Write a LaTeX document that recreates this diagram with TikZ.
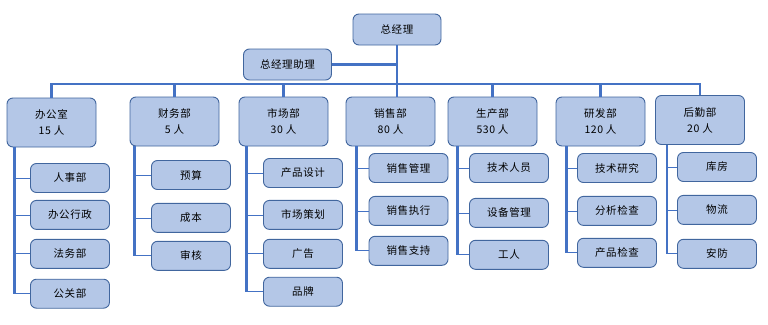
\documentclass[tikz,border=0pt]{standalone}
\usepackage{fontspec}
\newfontfamily\cjk[LetterSpace=5]{Noto Sans CJK SC}
\usetikzlibrary{positioning}
\definecolor{boxfill}{HTML}{B4C7E7}
\definecolor{boxline}{HTML}{41669E}
\definecolor{linkblue}{HTML}{4472C4}

\begin{document}
\begin{tikzpicture}[
    x=1pt, y=-1pt,
    every node/.style={font=\cjk\fontsize{10.5}{16}\selectfont},
    orgbox/.style={rectangle, draw=boxline, fill=boxfill, line width=0.9pt, rounded corners=6pt, align=center, inner sep=0pt},
    head/.style={orgbox, minimum width=88pt, minimum height=31pt},
    dept/.style={orgbox, minimum width=89pt, minimum height=49pt},
    unit/.style={orgbox, minimum width=79pt, minimum height=29pt},
    trunk/.style={linkblue, line width=2.6pt},
    stub/.style={linkblue, line width=0.8pt}
]

\useasboundingbox (0,0) rectangle (768,324);

% Top management
\node[head] (gm) at (397, 29.5) {总经理};
\node[head] (asst) at (287.5, 64.5) {总经理助理};

% ============ Departments ============
\node[dept] (d1) at (51.5, 122.5) {办公室\\15 人};
\node[dept] (d2) at (174.5, 121.5) {财务部\\5 人};
\node[dept] (d3) at (283.5, 121.5) {市场部\\30 人};
\node[dept] (d4) at (390.5, 121.5) {销售部\\80 人};
\node[dept] (d5) at (492.5, 121.5) {生产部\\530 人};
\node[dept] (d6) at (600.5, 121.5) {研发部\\120 人};
\node[dept] (d7) at (700, 120) {后勤部\\20 人};

% ============ 办公室 ============
\node[unit] (s11) at (70, 178) {人事部};
\node[unit, below=7pt of s11] (s12) {办公行政};
\node[unit, below=9pt of s12] (s13) {法务部};
\node[unit, below=10pt of s13] (s14) {公关部};

% ============ 财务部 ============
\node[unit] (s21) at (191, 175) {预算};
\node[unit, below=13pt of s21] (s22) {成本};
\node[unit, below=8pt of s22] (s23) {审核};

% ============ 市场部 ============
\node[unit] (s31) at (303, 173) {产品设计};
\node[unit, below=12pt of s31] (s32) {市场策划};
\node[unit, below=9pt of s32] (s33) {广告};
\node[unit, below=8pt of s33] (s34) {品牌};

% ============ 销售部 ============
\node[unit] (s41) at (408.5, 168) {销售管理};
\node[unit, below=13pt of s41] (s42) {销售执行};
\node[unit, below=10pt of s42] (s43) {销售支持};

% ============ 生产部 ============
\node[unit] (s51) at (509, 168) {技术人员};
\node[unit, below=15pt of s51] (s52) {设备管理};
\node[unit, below=12pt of s52] (s53) {工人};

% ============ 研发部 ============
\node[unit] (s61) at (617, 168) {技术研究};
\node[unit, below=13pt of s61] (s62) {分析检查};
\node[unit, below=12pt of s62] (s63) {产品检查};

% ============ 后勤部 ============
\node[unit] (s71) at (717, 167) {库房};
\node[unit, below=13pt of s71] (s72) {物流};
\node[unit, below=14pt of s72] (s73) {安防};

% Trunk from the top and the bus
\coordinate (bus) at (397, 84);
\draw[trunk] (gm.south) -- (gm.south |- d4.north);
\draw[trunk] (asst.east) -- (asst.east -| gm.south);
\draw[trunk] (d1.north) -- (d1.north |- bus) -- (d7.north |- bus) -- (d7.north);
\foreach \d in {d2, d3, d5, d6}
    \draw[trunk] (\d.north) -- (\d.north |- bus);

% Department trunks and branches
\foreach \d/\off/\last/\subs in {d1/8/s14/{s11,s12,s13,s14}, d2/5/s23/{s21,s22,s23},
        d3/8/s34/{s31,s32,s33,s34}, d4/11/s43/{s41,s42,s43}, d5/10/s53/{s51,s52,s53},
        d6/11/s63/{s61,s62,s63}, d7/12/s73/{s71,s72,s73}} {
    \coordinate (t) at ([xshift=\off pt]\d.south west);
    \draw[trunk] (t) -- (t |- \last.west);
    \foreach \s in \subs
        \draw[stub] (\s.west) -- (\s.west -| t);
}

\end{tikzpicture}
\end{document}
